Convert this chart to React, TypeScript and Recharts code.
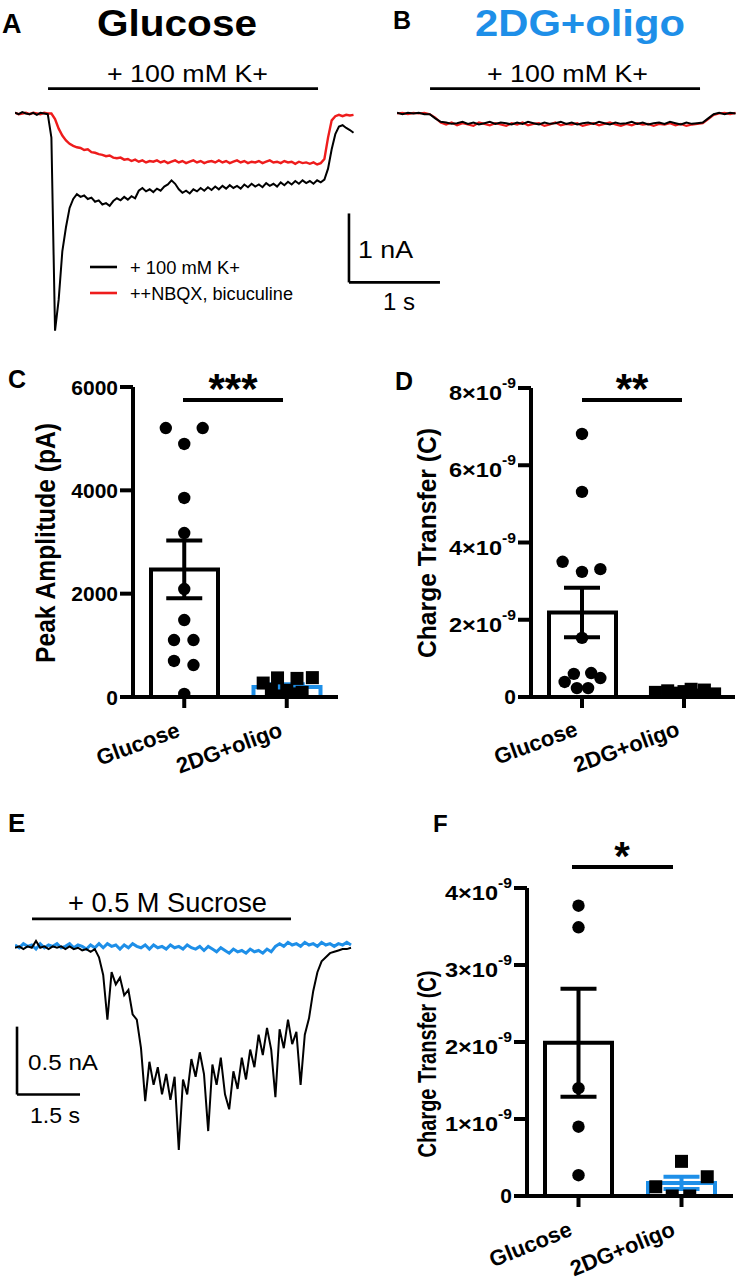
import React from 'react';
import {
  LineChart, Line, XAxis, YAxis, ReferenceLine,
  ComposedChart, Bar, Cell, Scatter, ErrorBar,
} from 'recharts';

const FONT = '"Liberation Sans", Arial, Helvetica, sans-serif';
const BLACK = '#000000';
const RED = '#ee1c1c';
const BLUE = '#1e8fe8';
const AXW = 4;

// ---------------- Panel A / B traces (current, nA) ----------------
const traceDtA = 0.04; // s per sample
const aBlack = [
  0.01, -0.01, 0.02, 0.00, -0.01, 0.01, -0.02, 0.01, 0.00, -0.01,
  -0.35, -3.15, -2.70, -2.00, -1.65, -1.37, -1.24, -1.17, -1.21, -1.19,
  -1.24, -1.22, -1.28, -1.26, -1.32, -1.30, -1.34, -1.27, -1.23, -1.26,
  -1.21, -1.25, -1.20, -1.23, -1.12, -1.08, -1.13, -1.10, -1.14, -1.09,
  -1.12, -1.06, -1.03, -0.97, -1.02, -1.10, -1.15, -1.12, -1.16, -1.10,
  -1.13, -1.08, -1.12, -1.07, -1.11, -1.06, -1.10, -1.05, -1.09, -1.04,
  -1.08, -1.05, -1.09, -1.03, -1.07, -1.02, -1.06, -1.03, -1.07, -1.01,
  -1.05, -1.02, -1.06, -1.00, -1.04, -0.99, -1.03, -0.98, -1.02, -0.97,
  -1.01, -0.98, -1.02, -0.97, -1.00, -0.96, -0.80, -0.52, -0.30, -0.19,
  -0.17, -0.21, -0.24, -0.28,
];
const aRed = [
  0.01, -0.01, 0.00, 0.01, -0.01, 0.01, 0.00, -0.01, 0.01, 0.00,
  0.00, -0.08, -0.22, -0.32, -0.39, -0.44, -0.47, -0.49, -0.50, -0.53,
  -0.52, -0.56, -0.57, -0.59, -0.60, -0.62, -0.61, -0.64, -0.65, -0.64,
  -0.67, -0.66, -0.69, -0.67, -0.70, -0.68, -0.71, -0.69, -0.70, -0.68,
  -0.71, -0.69, -0.72, -0.70, -0.68, -0.71, -0.69, -0.72, -0.70, -0.68,
  -0.71, -0.69, -0.72, -0.70, -0.69, -0.71, -0.68, -0.71, -0.69, -0.72,
  -0.70, -0.68, -0.71, -0.69, -0.72, -0.70, -0.71, -0.69, -0.72, -0.70,
  -0.68, -0.71, -0.70, -0.72, -0.69, -0.71, -0.70, -0.73, -0.70, -0.72,
  -0.71, -0.73, -0.71, -0.74, -0.72, -0.66, -0.35, -0.10, -0.04, -0.02,
  -0.04, -0.02, -0.03, -0.02,
];
const traceDtB = 0.06;
const bBlack = [
  0.01, -0.01, 0.01, 0.00, 0.01, -0.01, -0.01,
  -0.07, -0.12,
  -0.13, -0.15, -0.14, -0.12, -0.15, -0.13, -0.16, -0.14, -0.12, -0.15,
  -0.13, -0.14, -0.16, -0.13, -0.15, -0.12, -0.14, -0.16, -0.13, -0.15,
  -0.14, -0.12, -0.15, -0.13, -0.16, -0.14, -0.13, -0.15, -0.12, -0.14,
  -0.16, -0.13, -0.15, -0.14, -0.12, -0.15, -0.13, -0.16, -0.14, -0.13,
  -0.15, -0.12, -0.14, -0.16, -0.13, -0.15, -0.14, -0.13,
  -0.07, -0.01,
  0.01, -0.01, 0.01, 0.00,
];
const bRed = [
  0.00, 0.01, -0.01, 0.01, 0.00, 0.01, -0.01,
  -0.06, -0.13,
  -0.16, -0.13, -0.17, -0.14, -0.16, -0.18, -0.13, -0.15, -0.17, -0.14,
  -0.16, -0.18, -0.14, -0.16, -0.13, -0.17, -0.15, -0.14, -0.18, -0.16,
  -0.13, -0.17, -0.15, -0.16, -0.14, -0.18, -0.16, -0.14, -0.17, -0.15,
  -0.13, -0.16, -0.18, -0.15, -0.17, -0.14, -0.16, -0.15, -0.18, -0.15,
  -0.16, -0.14, -0.17, -0.15, -0.18, -0.16, -0.15, -0.14,
  -0.08, -0.02,
  0.00, 0.01, -0.01, 0.01,
];

// ---------------- Panel E traces (current, nA) ----------------
const traceDtE = 0.1;
const eBlack = [
  0.00, 0.01, -0.01, 0.01, 0.00, 0.05, 0.00, 0.01, -0.01, 0.01,
  0.00, 0.01, -0.01, 0.01, -0.01, 0.00, -0.02, -0.01, -0.03, -0.01,
  -0.07, -0.20, -0.53, -0.18, -0.27, -0.22, -0.35, -0.31, -0.49, -0.53,
  -0.74, -1.13, -0.84, -1.01, -0.88, -1.08, -0.93, -1.12, -0.95, -1.49,
  -0.97, -1.08, -0.82, -0.95, -0.77, -0.93, -1.35, -0.86, -1.01, -0.81,
  -1.08, -1.19, -0.91, -1.04, -0.81, -0.97, -0.75, -0.88, -0.64, -0.79,
  -0.59, -0.75, -1.10, -0.60, -0.74, -0.53, -0.71, -0.62, -1.01, -0.64,
  -0.52, -0.32, -0.18, -0.10, -0.07, -0.04, -0.03, -0.02, -0.01, -0.01,
  0.00,
];
const eBlue = [
  0.02, 0.00, 0.03, 0.01, 0.02, -0.01, 0.03, 0.00, 0.02, 0.01,
  0.03, 0.00, 0.01, 0.03, 0.00, 0.02, 0.01, -0.01, 0.02, 0.00,
  0.03, 0.00, 0.03, 0.01, 0.02, -0.01, 0.02, 0.00, 0.03, 0.01,
  0.00, 0.02, -0.01, 0.02, 0.00, 0.01, -0.01, 0.02, 0.00, 0.01,
  -0.01, 0.02, 0.00, -0.01, 0.01, -0.02, 0.01, -0.01, -0.03, 0.00,
  -0.02, -0.04, -0.01, -0.03, -0.02, -0.04, -0.01, -0.03, -0.02, -0.04,
  -0.01, -0.03, 0.01, 0.03, 0.01, 0.04, 0.02, 0.03, 0.01, 0.04,
  0.02, 0.03, 0.01, 0.04, 0.02, 0.03, 0.01, 0.03, 0.02, 0.04,
  0.02,
];

// ---------------- Bar panels ----------------
const groups = ['Glucose', '2DG+oligo'];

// C: peak amplitude (pA)
const peakMean = [2470, 195];
const peakSem = [560, 50];
const peakGlucose = [5206, 5206, 4897, 3852, 3174, 2090, 1490, 1103, 1103, 697, 619, 58];
const peakGlucoseJitter = [-0.18, 0.18, 0, 0, 0, 0, 0, -0.1, 0.09, -0.1, 0.09, 0];
const peak2DG = [270, 370, 360, 375, 130, 60, 20, 150, 90];
const peak2DGJitter = [-0.23, -0.09, 0.1, 0.25, 0, 0.05, -0.05, -0.15, 0.15];
const peakTicks = [0, 2000, 4000, 6000];

// D: charge transfer, K+ (C)
const chargeKMean = [2.19e-9, 0.12e-9];
const chargeKSem = [0.64e-9, 0.02e-9];
const chargeKGlucose = [6.81e-9, 5.31e-9, 3.5e-9, 3.24e-9, 3.31e-9, 1.53e-9, 0.6e-9, 0.39e-9, 0.49e-9, 0.23e-9, 0.23e-9, 0.62e-9];
const chargeKGlucoseJitter = [0, 0, -0.19, 0, 0.18, 0, -0.08, -0.17, 0.18, -0.05, 0.06, 0.09];
const chargeK2DG = [0.12e-9, 0.16e-9, 0.1e-9, 0.2e-9, 0.18e-9, 0.08e-9, 0.14e-9, 0.05e-9];
const chargeK2DGJitter = [-0.28, -0.16, -0.05, 0.07, 0.2, 0.3, 0, 0.12];
const chargeKTicks = [0, 2e-9, 4e-9, 6e-9, 8e-9];

// F: charge transfer, sucrose (C)
const chargeSMean = [1.99e-9, 0.17e-9];
const chargeSSem = [0.7e-9, 0.08e-9];
const chargeSGlucose = [3.77e-9, 3.49e-9, 1.4e-9, 0.9e-9, 0.27e-9];
const chargeSGlucoseJitter = [0, 0, 0, 0, 0];
const chargeS2DG = [0.45e-9, 0.12e-9, 0.25e-9, 0.0, 0.0];
const chargeS2DGJitter = [0, -0.25, 0.25, -0.09, 0.08];
const chargeSTicks = [0, 1e-9, 2e-9, 3e-9, 4e-9];

const toSeries = (vals: number[], dt: number) => vals.map((v, i) => ({ t: +(i * dt).toFixed(3), v }));

const Dot = (props: any) => <circle cx={props.cx} cy={props.cy} r={6.2} fill={BLACK} />;
const Sq = (props: any) => (
  <rect x={props.cx - 6.5} y={props.cy - 6.5} width={13} height={13} fill={BLACK} />
);
const NoShape = () => <g />;

const makeCatTick = (angle: number, dx: number, dy: number, fs: number) => (props: any) => {
  const { x, y, payload } = props;
  const tx = x + dx;
  const ty = y + dy;
  return (
    <text x={tx} y={ty} transform={`rotate(${-angle} ${tx} ${ty})`} textAnchor="end"
      fontFamily={FONT} fontWeight="bold" fontSize={fs} fill={BLACK}>
      {payload.value}
    </text>
  );
};

const plainTick = (props: any) => {
  const { x, y, payload } = props;
  return (
    <text x={x} y={y + 7.5} textAnchor="end" fontFamily={FONT} fontWeight="bold" fontSize={21} fill={BLACK}>
      {payload.value}
    </text>
  );
};

const sciTick = (props: any) => {
  const { x, y, payload } = props;
  const v = payload.value;
  if (v === 0) {
    return (
      <text x={x} y={y + 7} textAnchor="end" fontFamily={FONT} fontWeight="bold" fontSize={21} fill={BLACK}>0</text>
    );
  }
  const m = Math.round(v * 1e9);
  return (
    <text x={x} y={y + 12} textAnchor="end" fontFamily={FONT} fontWeight="bold" fontSize={21} fill={BLACK}
      textLength={67} lengthAdjust="spacingAndGlyphs">
      {`${m}×10`}
      <tspan dy={-12} fontSize={14}>-9</tspan>
    </text>
  );
};

type BarPanelProps = {
  left: number; top: number; yAxisWidth: number; plotW: number; plotH: number; rightM: number;
  yMax: number; ticks: number[]; sci: boolean;
  means: number[]; sems: number[];
  gluVals: number[]; gluJit: number[]; dgVals: number[]; dgJit: number[];
  angle: number; ldx: number; ldy: number;
};

function BarPanel(p: BarPanelProps) {
  const topM = 16;
  const xAxisH = 95;
  const data = groups.map((g, i) => ({ name: g, mean: p.means[i] }));
  const gluPts = p.gluVals.map((v, i) => ({ x: 0 + p.gluJit[i], y: v }));
  const dgPts = p.dgVals.map((v, i) => ({ x: 1 + p.dgJit[i], y: v }));
  const meanG = [{ x: 0, y: p.means[0], e: p.sems[0] }];
  const meanD = [{ x: 1, y: p.means[1], e: p.sems[1] }];
  return (
    <div style={{ position: 'absolute', left: p.left, top: p.top - topM }}>
      <ComposedChart
        width={p.yAxisWidth + p.plotW + p.rightM}
        height={topM + p.plotH + xAxisH}
        data={data}
        margin={{ top: topM, right: p.rightM, bottom: 0, left: 0 }}
      >
        <XAxis xAxisId="cat" dataKey="name" type="category" interval={0}
          axisLine={{ stroke: BLACK, strokeWidth: AXW }}
          tickLine={{ stroke: BLACK, strokeWidth: AXW }}
          tickSize={11} tickMargin={2} height={xAxisH}
          tick={makeCatTick(p.angle, p.ldx, p.ldy, 22)} />
        <XAxis xAxisId="num" dataKey="x" type="number" domain={[-0.5, 1.5]} hide allowDataOverflow />
        <YAxis dataKey="y" type="number" domain={[0, p.yMax]} ticks={p.ticks} interval={0}
          width={p.yAxisWidth} allowDataOverflow
          axisLine={{ stroke: BLACK, strokeWidth: AXW }}
          tickLine={{ stroke: BLACK, strokeWidth: AXW }}
          tickSize={13} tickMargin={2}
          tick={p.sci ? sciTick : plainTick} />
        <Bar xAxisId="cat" dataKey="mean" barSize={67} fill="none" strokeWidth={AXW} isAnimationActive={false}>
          <Cell stroke={BLACK} />
          <Cell stroke={BLUE} />
        </Bar>
        <Scatter xAxisId="num" data={gluPts} shape={Dot} isAnimationActive={false} />
        <Scatter xAxisId="num" data={dgPts} shape={Sq} isAnimationActive={false} />
        <Scatter xAxisId="num" data={meanG} shape={NoShape} isAnimationActive={false}>
          <ErrorBar dataKey="e" direction="y" width={18} strokeWidth={AXW} stroke={BLACK} isAnimationActive={false} />
        </Scatter>
        <Scatter xAxisId="num" data={meanD} shape={NoShape} isAnimationActive={false}>
          <ErrorBar dataKey="e" direction="y" width={18} strokeWidth={AXW} stroke={BLUE} isAnimationActive={false} />
        </Scatter>
      </ComposedChart>
    </div>
  );
}

function TracesA() {
  const w = 432;
  const h = 262;
  return (
    <div style={{ position: 'absolute', left: 15, top: 78.5 }}>
      <LineChart width={w} height={h} margin={{ top: 0, right: 0, bottom: 0, left: 0 }}>
        <XAxis type="number" dataKey="t" domain={[0, w / 91]} hide allowDataOverflow />
        <YAxis type="number" dataKey="v" domain={[-3.3, 0.5]} hide allowDataOverflow />
        <Line data={toSeries(aRed, traceDtA)} dataKey="v" stroke={RED} strokeWidth={2.4} dot={false} isAnimationActive={false} />
        <Line data={toSeries(aBlack, traceDtA)} dataKey="v" stroke={BLACK} strokeWidth={2} dot={false} isAnimationActive={false} />
        <ReferenceLine segment={[{ x: 0.363, y: 0.36 }, { x: 3.33, y: 0.36 }]} stroke={BLACK} strokeWidth={2.8} ifOverflow="visible" />
        <ReferenceLine segment={[{ x: 3.67, y: -1.45 }, { x: 3.67, y: -2.45 }]} stroke={BLACK} strokeWidth={2.6} ifOverflow="visible" />
        <ReferenceLine segment={[{ x: 3.67, y: -2.45 }, { x: 4.67, y: -2.45 }]} stroke={BLACK} strokeWidth={2.6} ifOverflow="visible" />
      </LineChart>
    </div>
  );
}

function TracesB() {
  const w = 340;
  const h = 69;
  return (
    <div style={{ position: 'absolute', left: 397, top: 78.5 }}>
      <LineChart width={w} height={h} margin={{ top: 0, right: 0, bottom: 0, left: 0 }}>
        <XAxis type="number" dataKey="t" domain={[0, w / 91]} hide allowDataOverflow />
        <YAxis type="number" dataKey="v" domain={[-0.5, 0.5]} hide allowDataOverflow />
        <Line data={toSeries(bRed, traceDtB)} dataKey="v" stroke={RED} strokeWidth={2.2} dot={false} isAnimationActive={false} />
        <Line data={toSeries(bBlack, traceDtB)} dataKey="v" stroke={BLACK} strokeWidth={2} dot={false} isAnimationActive={false} />
        <ReferenceLine segment={[{ x: 0.363, y: 0.36 }, { x: 3.33, y: 0.36 }]} stroke={BLACK} strokeWidth={2.8} ifOverflow="visible" />
      </LineChart>
    </div>
  );
}

function TracesE() {
  const w = 340;
  const h = 258;
  return (
    <div style={{ position: 'absolute', left: 15, top: 907 }}>
      <LineChart width={w} height={h} margin={{ top: 0, right: 0, bottom: 0, left: 0 }}>
        <XAxis type="number" dataKey="t" domain={[0, w / 42]} hide allowDataOverflow />
        <YAxis type="number" dataKey="v" domain={[-1.6, 0.3]} hide allowDataOverflow />
        <Line data={toSeries(eBlue, traceDtE)} dataKey="v" stroke={BLUE} strokeWidth={3} dot={false} isAnimationActive={false} />
        <Line data={toSeries(eBlack, traceDtE)} dataKey="v" stroke={BLACK} strokeWidth={2} dot={false} isAnimationActive={false} />
        <ReferenceLine segment={[{ x: 0.405, y: 0.213 }, { x: 6.571, y: 0.213 }]} stroke={BLACK} strokeWidth={2.8} ifOverflow="visible" />
        <ReferenceLine segment={[{ x: 0.048, y: -0.581 }, { x: 0.048, y: -1.081 }]} stroke={BLACK} strokeWidth={2.6} ifOverflow="visible" />
        <ReferenceLine segment={[{ x: 0.048, y: -1.081 }, { x: 1.548, y: -1.081 }]} stroke={BLACK} strokeWidth={2.6} ifOverflow="visible" />
      </LineChart>
    </div>
  );
}

function Overlay() {
  const bold = { fontWeight: 'bold' as const };
  return (
    <svg width={739} height={1280} style={{ position: 'absolute', left: 0, top: 0, pointerEvents: 'none' }}>
      <g fontFamily={FONT} fill={BLACK}>
        {/* Panel letters and titles */}
        <text x={2} y={33} fontSize={27} {...bold}>A</text>
        <text x={97} y={36} fontSize={37} {...bold} textLength={160} lengthAdjust="spacingAndGlyphs">Glucose</text>
        <text x={393} y={29} fontSize={25} {...bold}>B</text>
        <text x={475} y={36} fontSize={37} {...bold} fill={BLUE} textLength={210} lengthAdjust="spacingAndGlyphs">2DG+oligo</text>
        <text x={107} y={82} fontSize={24} textLength={161} lengthAdjust="spacingAndGlyphs">+ 100 mM K+</text>
        <text x={487} y={82} fontSize={24} textLength={161} lengthAdjust="spacingAndGlyphs">+ 100 mM K+</text>

        {/* Legend A */}
        <line x1={90} y1={267} x2={117} y2={267} stroke={BLACK} strokeWidth={2.6} />
        <line x1={90} y1={293} x2={117} y2={293} stroke={RED} strokeWidth={2.6} />
        <text x={130} y={274} fontSize={18} textLength={110} lengthAdjust="spacingAndGlyphs">+ 100 mM K+</text>
        <text x={130} y={300} fontSize={18} textLength={163} lengthAdjust="spacingAndGlyphs">++NBQX, bicuculine</text>

        {/* Scale bar labels A */}
        <text x={358} y={258} fontSize={24} textLength={55} lengthAdjust="spacingAndGlyphs">1 nA</text>
        <text x={383} y={310} fontSize={24}>1 s</text>

        {/* Panel C/D */}
        <text x={8} y={388} fontSize={25} {...bold}>C</text>
        <text x={395} y={390} fontSize={25} {...bold}>D</text>
        <line x1={183} y1={400} x2={283} y2={400} stroke={BLACK} strokeWidth={4} />
        <text x={233} y={403} fontSize={42} {...bold} textAnchor="middle">***</text>
        <line x1={582} y1={400} x2={682} y2={400} stroke={BLACK} strokeWidth={4} />
        <text x={632} y={403} fontSize={42} {...bold} textAnchor="middle">**</text>
        <text x={55} y={543} fontSize={27} {...bold} textAnchor="middle" transform="rotate(-90 55 543)"
          textLength={240} lengthAdjust="spacingAndGlyphs">Peak Amplitude (pA)</text>
        <text x={436} y={543} fontSize={25} {...bold} textAnchor="middle" transform="rotate(-90 436 543)"
          textLength={230} lengthAdjust="spacingAndGlyphs">Charge Transfer (C)</text>

        {/* Panel E */}
        <text x={8} y={832} fontSize={26} {...bold}>E</text>
        <text x={68} y={912} fontSize={27} textLength={199} lengthAdjust="spacingAndGlyphs">+ 0.5 M Sucrose</text>
        <text x={28} y={1070} fontSize={22} textLength={70} lengthAdjust="spacingAndGlyphs">0.5 nA</text>
        <text x={30} y={1123} fontSize={22} textLength={50} lengthAdjust="spacingAndGlyphs">1.5 s</text>

        {/* Panel F */}
        <text x={433} y={832} fontSize={24} {...bold}>F</text>
        <line x1={572} y1={867} x2={673} y2={867} stroke={BLACK} strokeWidth={4} />
        <text x={622} y={870} fontSize={40} {...bold} textAnchor="middle">*</text>
        <text x={436} y={1064} fontSize={25} {...bold} textAnchor="middle" transform="rotate(-90 436 1064)"
          textLength={187} lengthAdjust="spacingAndGlyphs">Charge Transfer (C)</text>
      </g>
    </svg>
  );
}

export default function App() {
  return (
    <div style={{ position: 'absolute', left: 0, top: 0, width: 739, height: 1280, background: '#fff', overflow: 'hidden', fontFamily: FONT }}>
      <TracesA />
      <TracesB />
      <BarPanel left={60} top={387} yAxisWidth={73} plotW={205} plotH={310} rightM={20}
        yMax={6000} ticks={peakTicks} sci={false}
        means={peakMean} sems={peakSem}
        gluVals={peakGlucose} gluJit={peakGlucoseJitter} dgVals={peak2DG} dgJit={peak2DGJitter}
        angle={20} ldx={-3} ldy={26} />
      <BarPanel left={430} top={388} yAxisWidth={101} plotW={204} plotH={309} rightM={4}
        yMax={8e-9} ticks={chargeKTicks} sci={true}
        means={chargeKMean} sems={chargeKSem}
        gluVals={chargeKGlucose} gluJit={chargeKGlucoseJitter} dgVals={chargeK2DG} dgJit={chargeK2DGJitter}
        angle={20} ldx={-3} ldy={25} />
      <TracesE />
      <BarPanel left={430} top={888} yAxisWidth={97} plotW={206} plotH={308} rightM={6}
        yMax={4e-9} ticks={chargeSTicks} sci={true}
        means={chargeSMean} sems={chargeSSem}
        gluVals={chargeSGlucose} gluJit={chargeSGlucoseJitter} dgVals={chargeS2DG} dgJit={chargeS2DGJitter}
        angle={22} ldx={-5} ldy={26} />
      <Overlay />
    </div>
  );
}
